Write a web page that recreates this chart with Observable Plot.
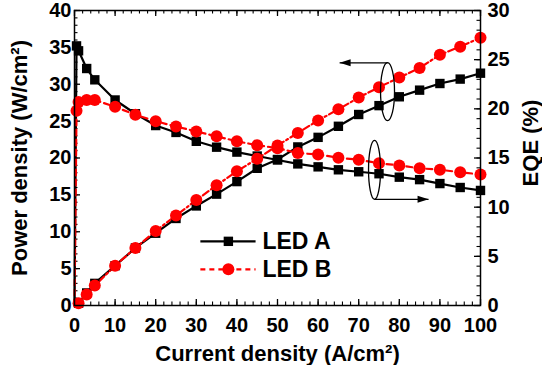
<!DOCTYPE html>
<html>
<head>
<meta charset="utf-8">
<script src="https://cdn.jsdelivr.net/npm/d3@7"></script>
<script src="https://cdn.jsdelivr.net/npm/@observablehq/plot@0.6"></script>
<style>
  html, body { margin: 0; padding: 0; background: white; }
</style>
</head>
<body>
<div id="chart"></div>
<script>
// ---- Data ----
const xPower = [1, 3, 5, 10, 15, 20, 25, 30, 35, 40, 45, 50, 55, 60, 65, 70, 75, 80, 85, 90, 95, 100];
const powerA = [0.3, 1.7, 3.0, 5.4, 7.8, 9.8, 11.8, 13.5, 15.1, 16.8, 18.6, 19.8, 21.5, 22.8, 24.3, 25.9, 27.1, 28.3, 29.2, 30.1, 30.7, 31.5];
const powerB = [0.3, 1.5, 2.7, 5.4, 7.8, 10.1, 12.2, 14.3, 16.3, 18.2, 19.9, 21.7, 23.4, 25.1, 26.6, 28.2, 29.6, 30.9, 32.2, 34.0, 35.1, 36.3];

const xEqe = [0, 0.5, 1, 3, 5, 10, 15, 20, 25, 30, 35, 40, 45, 50, 55, 60, 65, 70, 75, 80, 85, 90, 95, 100];
const eqeA = [0, 26.4, 25.9, 24.1, 22.95, 20.9, 19.5, 18.3, 17.6, 16.7, 16.1, 15.6, 15.2, 14.8, 14.4, 14.1, 13.8, 13.6, 13.4, 13.05, 12.8, 12.4, 12.0, 11.7];
const eqeB = [0, 19.8, 20.7, 20.9, 20.9, 20.2, 19.4, 18.74, 18.2, 17.7, 17.2, 16.7, 16.3, 16.0, 15.5, 15.36, 15.02, 14.82, 14.47, 14.24, 13.96, 13.8, 13.56, 13.32];

const seriesNames = ["LED A", "LED B"];
const xTicks = [0, 10, 20, 30, 40, 50, 60, 70, 80, 90, 100];
const powerTicks = [0, 5, 10, 15, 20, 25, 30, 35, 40];
const eqeTicks = [0, 5, 10, 15, 20, 25, 30];

// ---- Layout ----
const W = 542, H = 365;
const mL = 74, mR = 62, mT = 10, mB = 60;
const pw = W - mL - mR, ph = H - mT - mB;
const k = 40 / 30; // EQE -> power axis factor

const xMinor = d3.range(0, 100.01, 2);
const powerMinor = d3.range(0, 40.01, 1);
const eqeMinor = d3.range(0, 30.01, 1).map(v => v * k);

const rowsPA = xPower.map((x, i) => ({x, y: powerA[i]}));
const rowsPB = xPower.map((x, i) => ({x, y: powerB[i]}));
const rowsEA = xEqe.map((x, i) => ({x, y: eqeA[i] * k}));
const rowsEB = xEqe.map((x, i) => ({x, y: eqeB[i] * k}));
const dotsEA = rowsEA.filter(d => d.x > 0);
const dotsEB = rowsEB.filter(d => d.x > 0);

// custom symbols
function ellipseSymbol(rx, ry) {
  const c = 0.5523;
  return {draw(ctx) {
    ctx.moveTo(rx, 0);
    ctx.bezierCurveTo(rx, ry * c, rx * c, ry, 0, ry);
    ctx.bezierCurveTo(-rx * c, ry, -rx, ry * c, -rx, 0);
    ctx.bezierCurveTo(-rx, -ry * c, -rx * c, -ry, 0, -ry);
    ctx.bezierCurveTo(rx * c, -ry, rx, -ry * c, rx, 0);
    ctx.closePath();
  }};
}
const headLeft = {draw(ctx) { ctx.moveTo(0, 0); ctx.lineTo(11, -3.5); ctx.lineTo(11, 3.5); ctx.closePath(); }};
const headRight = {draw(ctx) { ctx.moveTo(0, 0); ctx.lineTo(-11, -3.5); ctx.lineTo(-11, 3.5); ctx.closePath(); }};

// annotation positions (data coordinates)
const ell1 = {x: 77.1, y: 29.0};
const ell2 = {x: 73.9, y: 13.8 * k};
const arr1 = {x1: 77.1, x2: 65.3, y: 32.9};
const arr2 = {x1: 73.9, x2: 87.2, y: 10.8 * k};
const legA = {x1: 31.0, x2: 44.6, xm: 37.9, y: 8.7, xt: 46.3};
const legB = {x1: 31.0, x2: 44.6, xm: 37.9, y: 4.9, xt: 46.3};

const red = "#ff0000";
const dashB = "6,4";
const dashBrise = "7,3,2,3";

const chart = Plot.plot({
  width: W, height: H,
  marginLeft: mL, marginRight: mR, marginTop: mT, marginBottom: mB,
  x: {domain: [0, 100], axis: null},
  y: {domain: [0, 40], axis: null},
  style: {fontFamily: "'Liberation Sans', Arial, sans-serif", fontWeight: "bold", fontSize: "20px", color: "black", background: "white"},
  marks: [
    // ticks (inward)
    Plot.tickX(xTicks, {x: d => d, insetTop: ph - 6, stroke: "black", strokeWidth: 1.3}),
    Plot.tickX(xMinor, {x: d => d, insetTop: ph - 3.5, stroke: "black", strokeWidth: 1.1}),
    Plot.tickX(xTicks, {x: d => d, insetBottom: ph - 6, stroke: "black", strokeWidth: 1.3}),
    Plot.tickX(xMinor, {x: d => d, insetBottom: ph - 3.5, stroke: "black", strokeWidth: 1.1}),
    Plot.tickY(powerTicks, {y: d => d, insetRight: pw - 6, stroke: "black", strokeWidth: 1.3}),
    Plot.tickY(powerMinor, {y: d => d, insetRight: pw - 3.5, stroke: "black", strokeWidth: 1.1}),
    Plot.tickY(eqeTicks.map(v => v * k), {y: d => d, insetLeft: pw - 6, stroke: "black", strokeWidth: 1.3}),
    Plot.tickY(eqeMinor, {y: d => d, insetLeft: pw - 3.5, stroke: "black", strokeWidth: 1.1}),
    // tick labels
    Plot.axisX({ticks: xTicks, label: null, tickSize: 0, tickPadding: 12, tickFormat: d => String(d), fontSize: 20, fontWeight: "bold"}),
    Plot.axisY({ticks: powerTicks, label: null, tickSize: 0, tickPadding: 3, tickFormat: d => String(d), fontSize: 20, fontWeight: "bold"}),
    Plot.axisY({ticks: eqeTicks.map(v => v * k), label: null, anchor: "right", tickSize: 0, tickPadding: 7, tickFormat: d => String(Math.round(d / k)), fontSize: 20, fontWeight: "bold"}),
    // axis titles
    Plot.text(["Current density (A/cm²)"], {text: d => d, frameAnchor: "bottom", dy: 48, textAnchor: "middle", lineAnchor: "middle", fontSize: 22, fontWeight: "bold"}),
    Plot.text(["Power density (W/cm²)"], {text: d => d, frameAnchor: "left", dx: -55, rotate: -90, textAnchor: "middle", lineAnchor: "middle", fontSize: 22, fontWeight: "bold"}),
    Plot.text(["EQE (%)"], {text: d => d, frameAnchor: "right", dx: 50, dy: -15, rotate: -90, textAnchor: "middle", lineAnchor: "middle", fontSize: 22, fontWeight: "bold"}),
    // data: power density
    Plot.line(rowsPA, {x: "x", y: "y", stroke: "black", strokeWidth: 2.2}),
    Plot.line(rowsPB, {x: "x", y: "y", stroke: red, strokeWidth: 2.2, strokeDasharray: dashBrise}),
    // data: EQE
    Plot.line(rowsEA, {x: "x", y: "y", stroke: "black", strokeWidth: 2.2}),
    Plot.line(rowsEB, {x: "x", y: "y", stroke: red, strokeWidth: 2.2, strokeDasharray: dashB}),
    Plot.dot(rowsPA, {x: "x", y: "y", symbol: "square", r: 5.3, fill: "black"}),
    Plot.dot(dotsEA, {x: "x", y: "y", symbol: "square", r: 5.3, fill: "black"}),
    Plot.dot(rowsPB, {x: "x", y: "y", symbol: "circle", r: 6, fill: red}),
    Plot.dot(dotsEB, {x: "x", y: "y", symbol: "circle", r: 6, fill: red}),
    // annotations: ellipses and arrows
    Plot.dot([ell1], {x: "x", y: "y", symbol: ellipseSymbol(7, 29), fill: "none", stroke: "black", strokeWidth: 1.3}),
    Plot.dot([ell2], {x: "x", y: "y", symbol: ellipseSymbol(6, 29.5), fill: "none", stroke: "black", strokeWidth: 1.3}),
    Plot.link([arr1], {x1: "x1", x2: "x2", y1: "y", y2: "y", stroke: "black", strokeWidth: 1.3}),
    Plot.dot([arr1], {x: "x2", y: "y", symbol: headLeft, fill: "black"}),
    Plot.link([arr2], {x1: "x1", x2: "x2", y1: "y", y2: "y", stroke: "black", strokeWidth: 1.3}),
    Plot.dot([arr2], {x: "x2", y: "y", symbol: headRight, fill: "black"}),
    // legend
    Plot.link([legA], {x1: "x1", x2: "x2", y1: "y", y2: "y", stroke: "black", strokeWidth: 2.2}),
    Plot.dot([legA], {x: "xm", y: "y", symbol: "square", r: 5.3, fill: "black"}),
    Plot.text([legA], {x: "xt", y: "y", text: () => seriesNames[0], textAnchor: "start", fontSize: 23, fontWeight: "bold"}),
    Plot.link([legB], {x1: "x1", x2: "x2", y1: "y", y2: "y", stroke: red, strokeWidth: 2.2, strokeDasharray: "5,4"}),
    Plot.dot([legB], {x: "xm", y: "y", symbol: "circle", r: 6, fill: red}),
    Plot.text([legB], {x: "xt", y: "y", text: () => seriesNames[1], textAnchor: "start", fontSize: 23, fontWeight: "bold"}),
    Plot.frame({stroke: "black", strokeWidth: 1.5})
  ]
});
document.getElementById("chart").appendChild(chart);
</script>
</body>
</html>
